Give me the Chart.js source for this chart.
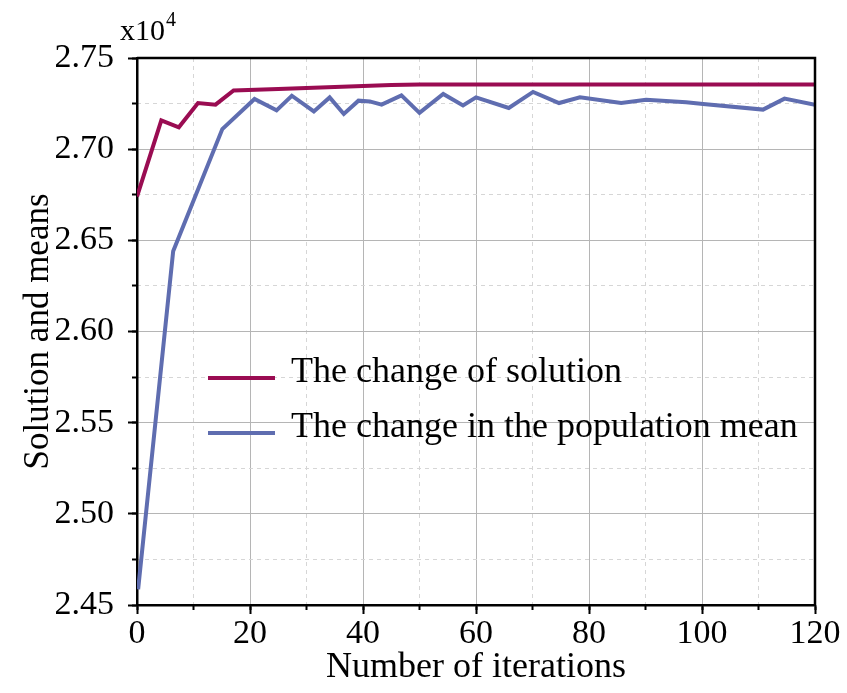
<!DOCTYPE html>
<html>
<head>
<meta charset="utf-8">
<script src="https://cdn.jsdelivr.net/npm/chart.js@4/dist/chart.umd.min.js"></script>
<style>
  html, body { margin: 0; padding: 0; background: #fff; }
  #wrap { width: 847px; height: 693px; }
</style>
</head>
<body>
<div id="wrap"><canvas id="chartConvergence"></canvas></div>
<script>
// values are in units of 10^4
const solutionIter = [0, 4.3, 7.4, 10.8, 13.9, 17.1, 25, 35, 45, 50, 120];
const solutionVals = [2.674, 2.7158, 2.712, 2.7253, 2.7244, 2.7322, 2.7330, 2.7341, 2.7352, 2.7355, 2.7355];

const meanIter = [0.2, 6.4, 15.1, 20.8, 24.7, 27.4, 31.3, 34.1, 36.6, 39.2, 41.2, 43.3, 46.8, 50, 54.2, 57.7, 60,
                  65.8, 70.1, 74.7, 78.4, 85.7, 90.1, 97.2, 100.2, 110.8, 114.6, 120];
const meanVals = [2.4586, 2.644, 2.711, 2.7275, 2.7213, 2.7293, 2.7207, 2.7284, 2.7193, 2.7266, 2.7262, 2.7244, 2.7295, 2.7199,
                  2.7303, 2.724, 2.7284, 2.7226, 2.7314, 2.7253, 2.7284, 2.7253, 2.7271, 2.7257, 2.7248, 2.7217, 2.7277, 2.7244];

const seriesLabels = ['The change of solution', 'The change in the population mean'];
const seriesColors = ['#9a0c52', '#5f6db0'];

const xTicks = [0, 20, 40, 60, 80, 100, 120];
const yTicks = [2.45, 2.50, 2.55, 2.60, 2.65, 2.70, 2.75];
const yExponent = '4';

const SERIF = "'Liberation Serif', 'Times New Roman', serif";

function toPoints(xs, ys) {
    return xs.map((x, i) => ({ x: x, y: ys[i] }));
}

// frame, exponent note and the in-plot legend
const decorPlugin = {
    id: 'decor',
    afterDatasetsDraw(chart) {
        const ctx = chart.ctx;
        const a = chart.chartArea;
        ctx.save();
        ctx.strokeStyle = '#000';
        ctx.lineWidth = 2.5;
        ctx.beginPath();
        ctx.moveTo(a.left, a.top);
        ctx.lineTo(a.right, a.top);
        ctx.lineTo(a.right, a.bottom);
        ctx.stroke();

        // x10^4
        ctx.fillStyle = '#000';
        ctx.textBaseline = 'alphabetic';
        ctx.textAlign = 'left';
        ctx.font = '30px ' + SERIF;
        ctx.fillText('x10', 120, 40);
        const w = ctx.measureText('x10').width;
        ctx.font = '20px ' + SERIF;
        ctx.fillText(yExponent, 120 + w + 1, 26);

        // legend
        const x0 = 208, x1 = 275;
        const rows = [378, 433];
        chart.data.datasets.forEach((ds, i) => {
            ctx.strokeStyle = ds.borderColor;
            ctx.lineWidth = 4;
            ctx.beginPath();
            ctx.moveTo(x0, rows[i]);
            ctx.lineTo(x1, rows[i]);
            ctx.stroke();
            ctx.fillStyle = '#000';
            ctx.font = '36px ' + SERIF;
            ctx.textBaseline = 'middle';
            ctx.fillText(ds.label, 291, rows[i] - 5);
        });
        ctx.restore();
    }
};

new Chart(document.getElementById('chartConvergence'), {
    type: 'line',
    data: {
        datasets: [
            {
                label: seriesLabels[0],
                data: toPoints(solutionIter, solutionVals),
                borderColor: seriesColors[0],
                borderWidth: 4,
                pointRadius: 0,
                tension: 0
            },
            {
                label: seriesLabels[1],
                data: toPoints(meanIter, meanVals),
                borderColor: seriesColors[1],
                borderWidth: 4,
                pointRadius: 0,
                tension: 0
            }
        ]
    },
    options: {
        responsive: true,
        maintainAspectRatio: false,
        animation: false,
        layout: { padding: { top: 58, right: 32, left: 0, bottom: 0 } },
        plugins: {
            legend: { display: false },
            tooltip: { enabled: false }
        },
        scales: {
            x: {
                type: 'linear',
                min: 0, max: 120,
                afterBuildTicks: s => { s.ticks = xTicks.map(v => ({ value: v })); },
                afterFit: s => { s.height = 88; },
                grid: { color: '#b5b5b5', lineWidth: 1, tickLength: 9, tickColor: '#000', tickWidth: 2 },
                border: { display: true, color: '#000', width: 2.5 },
                ticks: { color: '#000', padding: 0, maxRotation: 0, font: { family: SERIF, size: 34 } },
                title: { display: true, text: 'Number of iterations', color: '#000', padding: { top: 0, bottom: 4 },
                         font: { family: SERIF, size: 36 } }
            },
            xMinor: {
                type: 'linear',
                position: 'bottom',
                weight: -1,
                min: 0, max: 120,
                afterFit: s => { s.height = 0; },
                grid: {
                    color: c => (c.index % 2 === 0 ? 'rgba(0,0,0,0)' : '#d6d6d6'),
                    lineWidth: 1, tickLength: 5, tickColor: '#000', tickWidth: 2
                },
                border: { display: false, dash: [4, 4] },
                ticks: { display: false, stepSize: 10 }
            },
            y: {
                type: 'linear',
                min: 2.45, max: 2.75,
                afterBuildTicks: s => { s.ticks = yTicks.map(v => ({ value: v })); },
                afterFit: s => { s.width = 137; },
                grid: { color: '#b5b5b5', lineWidth: 1, tickLength: 9, tickColor: '#000', tickWidth: 2 },
                border: { display: true, color: '#000', width: 2.5 },
                ticks: { color: '#000', padding: 14, font: { family: SERIF, size: 34 },
                         callback: v => v.toFixed(2) },
                title: { display: true, text: 'Solution and means', color: '#000', padding: { top: 18, bottom: 0 },
                         font: { family: SERIF, size: 35 } }
            },
            yMinor: {
                type: 'linear',
                position: 'left',
                weight: -1,
                min: 2.45, max: 2.75,
                afterFit: s => { s.width = 0; },
                grid: {
                    color: c => (c.index % 2 === 0 ? 'rgba(0,0,0,0)' : '#d6d6d6'),
                    lineWidth: 1, tickLength: 5, tickColor: '#000', tickWidth: 2
                },
                border: { display: false, dash: [4, 4] },
                ticks: { display: false, stepSize: 0.025 }
            }
        }
    },
    plugins: [decorPlugin]
});
</script>
</body>
</html>
